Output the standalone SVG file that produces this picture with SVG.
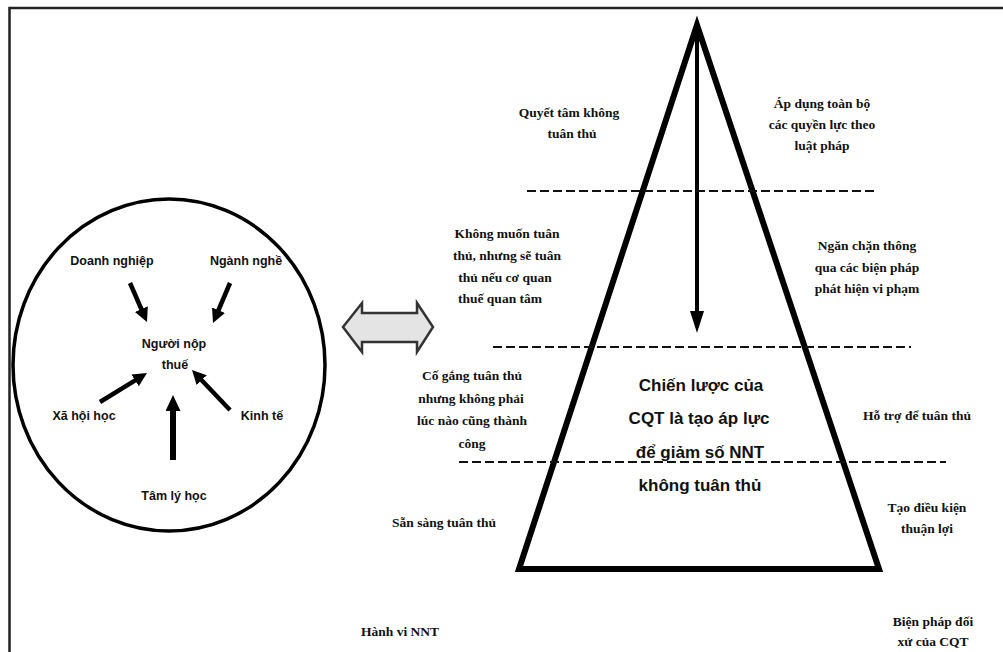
<svg xmlns="http://www.w3.org/2000/svg" width="1003" height="652" viewBox="0 0 1003 652">
  <style>
    .frame { fill: none; stroke: #222; stroke-width: 2.5; }
    .ring { fill: none; stroke: #000; stroke-width: 3.5; }
    .arrow { fill: none; stroke: #000; stroke-width: 4.5; marker-end: url(#head); }
    .arrow-thick { fill: none; stroke: #000; stroke-width: 6; marker-end: url(#head-wide); }
    .pyramid { fill: none; stroke: #000; stroke-width: 6; stroke-linejoin: miter; }
    .dash { fill: none; stroke: #111; stroke-width: 2; stroke-dasharray: 9 4; }
    .swap { fill: #e4e4e4; stroke: #333; stroke-width: 2.5; stroke-linejoin: miter; }
    .sans { font-family: "Liberation Sans", Arial, sans-serif; font-weight: bold; font-size: 12.5px; fill: #111; text-anchor: middle; }
    .serif { font-family: "Liberation Serif", "Times New Roman", serif; font-weight: bold; font-size: 13.5px; fill: #111; text-anchor: middle; }
    .core { font-family: "Liberation Sans", Arial, sans-serif; font-weight: bold; font-size: 17px; fill: #111; text-anchor: middle; }
  </style>
  <defs>
    <marker id="head" markerUnits="userSpaceOnUse" markerWidth="16" markerHeight="15" refX="2" refY="7" orient="auto">
      <path d="M0,0 L14,7 L0,14 z" fill="#000"/>
    </marker>
    <marker id="head-wide" markerUnits="userSpaceOnUse" markerWidth="18" markerHeight="16" refX="2" refY="7.5" orient="auto">
      <path d="M0,0 L16,7.5 L0,15 z" fill="#000"/>
    </marker>
    <marker id="head-long" markerUnits="userSpaceOnUse" markerWidth="24" markerHeight="16" refX="2" refY="7" orient="auto">
      <path d="M0,0 L22,7 L0,14 z" fill="#000"/>
    </marker>
  </defs>

  <rect width="1003" height="652" fill="#fff"/>

  <!-- outer frame: top and left edges only -->
  <path class="frame" d="M9.5,652 V8 H1003"/>

  <!-- influences on the taxpayer -->
  <g id="influence-circle">
    <ellipse class="ring" cx="169" cy="365" rx="156" ry="166"/>
  </g>
  <g id="node-taxpayer">
    <text class="sans" x="174" y="348">Người nộp</text>
    <text class="sans" x="175" y="369">thuế</text>
  </g>
  <g id="node-business"><text class="sans" x="112" y="265">Doanh nghiệp</text></g>
  <g id="node-industry"><text class="sans" x="246" y="265">Ngành nghề</text></g>
  <g id="node-sociology"><text class="sans" x="84" y="420">Xã hội học</text></g>
  <g id="node-economy"><text class="sans" x="262" y="420">Kinh tế</text></g>
  <g id="node-psychology"><text class="sans" x="174" y="500">Tâm lý học</text></g>

  <!-- two-way link between behaviour and strategy -->
  <g id="node-exchange">
    <polygon class="swap" points="343,327 362,303 362,313 417,313 417,303 433,327 417,352 417,342 362,342 362,352"/>
  </g>

  <!-- compliance pyramid -->
  <g id="node-pyramid">
    <polygon class="pyramid" points="697,25 519,569 879,569"/>
  </g>

  <g id="node-strategy">
    <text class="core" x="701" y="391">Chiến lược của</text>
    <text class="core" x="699" y="424">CQT là tạo áp lực</text>
    <text class="core" x="700" y="458">để giảm số NNT</text>
    <text class="core" x="700" y="491">không tuân thủ</text>
  </g>

  <!-- taxpayer behaviour levels -->
  <g id="node-refuse">
    <text class="serif" x="569" y="117">Quyết  tâm không</text>
    <text class="serif" x="572" y="138">tuân thủ</text>
  </g>
  <g id="node-reluctant">
    <text class="serif" x="507" y="238">Không muốn tuân</text>
    <text class="serif" x="507" y="260">thủ, nhưng sẽ tuân</text>
    <text class="serif" x="505" y="282">thủ nếu cơ quan</text>
    <text class="serif" x="500" y="303">thuế quan tâm</text>
  </g>
  <g id="node-trying">
    <text class="serif" x="472" y="380">Cố gắng tuân thủ</text>
    <text class="serif" x="471" y="403">nhưng không phải</text>
    <text class="serif" x="472" y="425">lúc nào cũng thành</text>
    <text class="serif" x="472" y="448">công</text>
  </g>
  <g id="node-willing"><text class="serif" x="444" y="527">Sẵn sàng tuân thủ</text></g>
  <g id="node-behaviour-title"><text class="serif" x="400" y="636">Hành vi NNT</text></g>

  <!-- tax authority responses -->
  <g id="node-full-force">
    <text class="serif" x="822" y="108">Áp dụng toàn bộ</text>
    <text class="serif" x="822" y="129">các quyền lực theo</text>
    <text class="serif" x="822" y="150">luật pháp</text>
  </g>
  <g id="node-deter">
    <text class="serif" x="867" y="250">Ngăn chặn thông</text>
    <text class="serif" x="867" y="272">qua các biện pháp</text>
    <text class="serif" x="867" y="293">phát hiện vi phạm</text>
  </g>
  <g id="node-assist"><text class="serif" x="917" y="420">Hỗ trợ để tuân thủ</text></g>
  <g id="node-facilitate">
    <text class="serif" x="927" y="512">Tạo điều kiện</text>
    <text class="serif" x="927" y="533">thuận lợi</text>
  </g>
  <g id="node-response-title">
    <text class="serif" x="933" y="626">Biện pháp đối</text>
    <text class="serif" x="933" y="646">xử của CQT</text>
  </g>

  <!-- connectors -->
  <g id="connectors">
    <line class="arrow" x1="130" y1="283" x2="142.2" y2="311"/>
    <line class="arrow" x1="230" y1="283" x2="217.7" y2="312"/>
    <line class="arrow" x1="100" y1="402" x2="136.8" y2="379.3"/>
    <line class="arrow" x1="230" y1="410" x2="200.3" y2="378.7"/>
    <line class="arrow-thick" x1="173" y1="460" x2="173" y2="409"/>
    <line x1="697" y1="22" x2="697" y2="313" stroke="#000" stroke-width="4" marker-end="url(#head-long)"/>
    <line class="dash" x1="527" y1="191" x2="875" y2="191"/>
    <line class="dash" x1="493" y1="347" x2="911" y2="347"/>
    <line class="dash" x1="459" y1="462" x2="946" y2="462"/>
  </g>
</svg>
